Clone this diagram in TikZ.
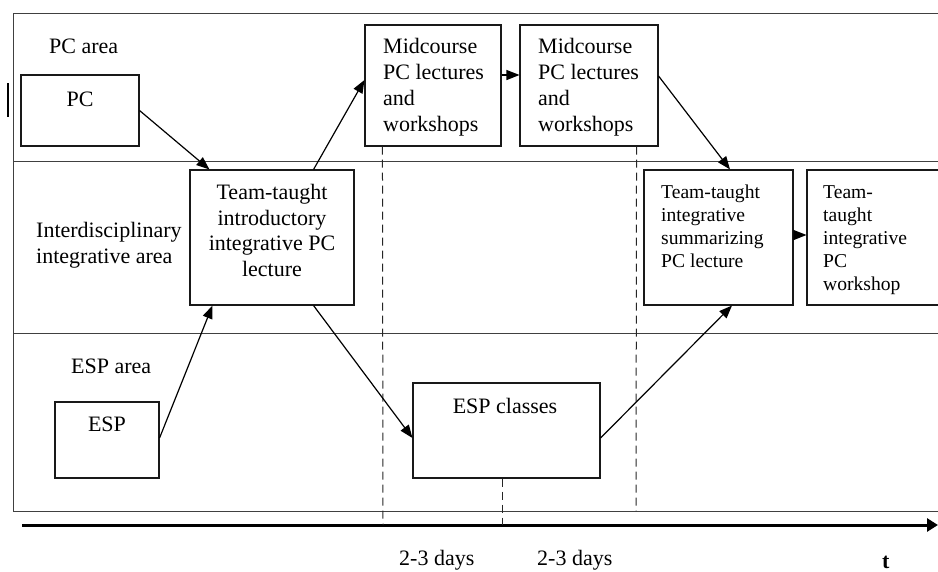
\documentclass[tikz,border=0pt]{standalone}
\usepackage{fontspec}
\setmainfont{Liberation Serif}
\usetikzlibrary{arrows.meta}
\begin{document}
\begin{tikzpicture}[x=1pt,y=-1pt,
  frame/.style={draw=black!75, line width=1pt},
  box/.style={draw=black!90, line width=1.1pt, inner sep=0, fill=none},
  conn/.style={draw=black, line width=1.2pt, -{Triangle[length=13pt,width=10pt]}},
  guide/.style={draw=black!85, line width=1pt, dash pattern=on 8pt off 5pt},
  txt/.style={inner sep=0, font=\fontsize{22}{25.7}\selectfont},
  smalltxt/.style={inner sep=0, font=\fontsize{19.6}{22.8}\selectfont}]
\useasboundingbox (0,0) rectangle (938,571);
\clip (0,0) rectangle (938,571);
% frame and lanes
\draw[frame] (13,13) -- (945,13);
\draw[frame] (13,13) -- (13,511) -- (945,511);
\draw[frame] (13,161) -- (945,161);
\draw[frame] (13,333) -- (945,333);
\draw[line width=2.5pt] (8,83) -- (8,117);
% boxes
\node[box, minimum width=118pt, minimum height=71pt] (pc) at (80,110.5) {};
\node[box, minimum width=164pt, minimum height=135pt] (intro) at (272,237.5) {};
\node[box, minimum width=136pt, minimum height=121pt] (mid1) at (433,85.5) {};
\node[box, minimum width=138pt, minimum height=121pt] (mid2) at (589,85.5) {};
\node[box, minimum width=149pt, minimum height=135pt] (summ) at (718.5,237.5) {};
\node[box, minimum width=153pt, minimum height=135pt] (work) at (883.5,237.5) {};
\node[box, minimum width=104pt, minimum height=76pt] (esp) at (107,440) {};
\node[box, minimum width=187pt, minimum height=95pt] (espc) at (506.5,430.5) {};
% texts (multi-line: base anchor = last line)
\node[txt, anchor=base west] (tpcarea) at (49,53) {PC area};
\node[txt, anchor=base] (tpc) at (80,106) {PC};
\node[txt, anchor=base, align=center, font=\fontsize{22}{25.5}\selectfont] (tintro) at (272,276) {Team-taught\\introductory\\integrative PC\\lecture};
\node[txt, anchor=base west, align=left, font=\fontsize{22}{26}\selectfont] (tinter) at (36,263) {Interdisciplinary\\integrative area};
\node[txt, anchor=base west, align=left] (tmid1) at (383,131) {Midcourse\\PC lectures\\and\\workshops};
\node[txt, anchor=base west, align=left] (tmid2) at (538,131) {Midcourse\\PC lectures\\and\\workshops};
\node[smalltxt, anchor=base west, align=left] (tsumm) at (661,267) {Team-taught\\integrative\\summarizing\\PC lecture};
\node[smalltxt, anchor=base west, align=left] (twork) at (823,290) {Team-\\taught\\integrative\\PC\\workshop};
\node[txt, anchor=base west] (tesparea) at (71,373) {ESP area};
\node[txt, anchor=base] (tesp) at (107,431) {ESP};
\node[txt, anchor=base] (tespc) at (505,413) {ESP classes};
\node[txt, anchor=base west] (tdays1) at (399,565) {2-3 days};
\node[txt, anchor=base west] (tdays2) at (537,565) {2-3 days};
\node[txt, anchor=base west, font=\fontsize{22}{26}\selectfont\bfseries] (tt) at (882,568) {t};
% time axis
\coordinate (axL) at (22,525);
\coordinate (axR) at (938,525);
\draw[line width=3pt, -{Triangle[length=11pt,width=13pt]}] (axL) -- (axR);
% dashed guides
\coordinate (g1) at (383,525);
\coordinate (g2) at (636,511);
\coordinate (g3) at (502,525);
\draw[guide] ([xshift=18pt]mid1.south west) -- (g1);
\draw[guide] ([xshift=-22pt]mid2.south east) -- (g2);
\draw[guide] ([xshift=-4.5pt]espc.south) -- (g3);
% connectors
\draw[conn] (pc.east) -- ([xshift=20pt]intro.north west);
\draw[conn] ([xshift=-41pt]intro.north east) -- ([yshift=5.5pt]mid1.west);
\draw[conn] ([yshift=2pt]esp.east) -- ([xshift=23pt]intro.south west);
\draw[conn] ([xshift=-41pt]intro.south east) -- ([yshift=-7.5pt]espc.west);
\draw[conn] ([yshift=-7.5pt]espc.east) -- ([xshift=13.5pt]summ.south);
\draw[conn] ([yshift=9.5pt]mid2.east) -- ([xshift=11.5pt]summ.north);
\draw[conn] ([yshift=10.5pt]mid1.east) -- ([yshift=10.5pt]mid2.west);
\draw[conn] ([yshift=2.5pt]summ.east) -- ([yshift=2.5pt]work.west);
\end{tikzpicture}
\end{document}
